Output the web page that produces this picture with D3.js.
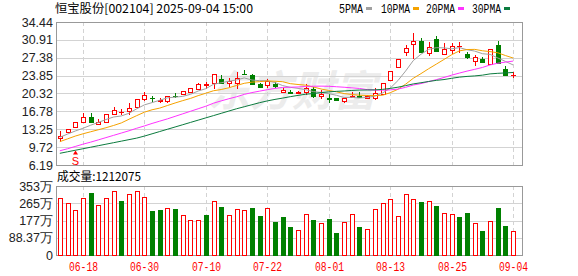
<!DOCTYPE html>
<html>
<head>
<meta charset="utf-8">
<script src="https://cdn.jsdelivr.net/npm/d3@7"></script>
<style>
  body { margin: 0; background: #fff; }
  svg { display: block; }
</style>
</head>
<body>
<div id="chart"></div>
<script>
// K线图 - 恒宝股份

// Datos
var dates = ["06-13","06-16","06-17","06-18","06-19","06-20","06-23","06-24","06-25","06-26",
  "06-27","06-30","07-01","07-02","07-03","07-04","07-07","07-08","07-09","07-10",
  "07-11","07-14","07-15","07-16","07-17","07-18","07-21","07-22","07-23","07-24",
  "07-25","07-28","07-29","07-30","07-31","08-01","08-04","08-05","08-06","08-07",
  "08-08","08-11","08-12","08-13","08-14","08-15","08-18","08-19","08-20","08-21",
  "08-22","08-25","08-26","08-27","08-28","08-29","09-01","09-02","09-03","09-04"];

var open = [11.47,12.77,13.76,14.74,15.73,14.29,14.63,16.20,16.60,16.92,
  17.71,19.17,19.45,18.90,18.90,19.85,20.15,20.55,21.27,22.05,
  22.33,23.18,22.33,22.33,24.20,23.97,22.19,21.90,22.13,20.70,
  20.67,20.35,20.67,21.20,19.80,19.35,19.35,18.85,19.65,19.75,
  19.50,19.40,20.15,23.00,25.60,28.57,30.03,30.69,28.26,31.00,
  28.06,28.91,29.70,28.12,26.79,27.13,26.08,29.90,25.10,23.90];

var high = [12.97,13.30,14.75,16.40,16.52,15.20,16.30,17.70,17.20,18.40,
  19.20,20.70,19.90,19.40,19.90,20.50,20.90,21.40,22.30,22.65,
  24.20,23.97,23.44,24.60,24.95,24.17,22.40,23.20,22.50,21.40,
  21.10,20.90,22.20,21.60,21.00,20.30,19.40,19.50,20.70,20.60,
  20.00,21.45,22.40,24.80,27.10,29.90,32.33,31.20,30.55,31.60,
  30.35,30.20,30.55,28.60,27.90,27.50,29.20,30.70,25.75,24.60];

var low = [10.73,12.70,13.60,14.70,14.70,14.10,14.50,16.10,16.00,16.10,
  17.50,18.90,18.70,18.40,18.40,19.40,20.00,20.40,21.00,21.30,
  21.30,22.20,21.54,21.30,24.10,22.00,21.40,21.50,21.50,20.40,
  20.30,20.30,20.00,19.50,19.20,18.40,18.95,18.40,19.50,19.50,
  19.30,19.00,20.00,22.90,25.30,27.70,27.07,28.40,27.70,28.50,
  27.90,28.20,28.40,27.10,25.80,26.40,25.90,26.20,23.77,23.30];

var close = [11.98,13.24,14.63,15.61,14.74,14.74,16.20,17.06,16.65,17.39,
  19.17,20.02,19.35,18.95,19.80,19.75,20.80,21.34,22.19,22.15,
  24.17,22.33,22.85,23.44,24.15,22.13,21.66,22.80,21.70,21.10,
  20.40,20.67,21.50,19.80,20.30,19.20,19.00,19.35,19.90,19.65,
  19.80,20.35,22.33,24.76,27.07,29.24,30.69,28.57,29.56,28.77,
  29.04,29.76,29.75,27.46,27.50,26.48,29.04,26.28,23.97,24.00];

// volumen en 万股
var volume = [290,265,229,290,318,255,290,326,277,312,
  326,296,225,230,239,236,205,178,178,205,
  275,246,205,234,229,241,200,239,169,195,
  143,126,208,179,162,184,113,169,208,143,
  132,234,265,285,198,311,285,272,275,251,
  214,208,195,215,162,123,173,241,149,121.2];

// medias moviles
var ma5 = [11.66,12.30,12.90,13.44,14.04,14.59,15.18,15.67,15.88,16.41,
  17.29,18.06,18.52,18.98,19.46,19.59,19.75,20.15,20.80,21.27,
  22.13,22.44,22.74,22.99,23.39,22.98,22.85,22.84,22.49,21.88,
  21.53,21.33,21.07,20.69,20.53,20.29,19.96,19.53,19.55,19.42,
  19.54,19.81,20.41,21.38,22.86,24.75,26.82,28.07,29.03,29.37,
  29.33,29.14,29.38,28.96,28.69,28.18,28.04,27.34,26.65,25.95];

var ma10 = [10.80,11.35,11.90,12.35,12.75,13.15,13.55,14.00,14.50,15.23,
  15.94,16.62,17.10,17.43,17.94,18.44,18.91,19.34,19.89,20.37,
  20.86,21.10,21.45,21.90,22.33,22.56,22.65,22.79,22.74,22.64,
  22.26,22.09,21.96,21.59,21.21,20.91,20.65,20.30,20.12,19.98,
  19.92,19.89,19.97,20.47,21.14,22.15,23.32,24.24,25.21,26.12,
  27.04,27.98,28.73,29.00,29.03,28.76,28.59,28.36,27.81,27.32];

var ma20 = [9.00,9.40,9.85,10.30,10.70,11.15,11.60,12.05,12.50,12.95,
  13.45,13.90,14.40,14.85,15.30,15.80,16.30,16.80,17.30,17.80,
  18.40,18.86,19.28,19.67,20.14,20.50,20.78,21.07,21.32,21.51,
  21.56,21.60,21.71,21.75,21.77,21.74,21.65,21.55,21.43,21.31,
  21.09,20.99,20.97,21.03,21.18,21.53,21.99,22.27,22.67,23.05,
  23.48,23.94,24.35,24.74,25.09,25.46,25.96,26.30,26.51,26.72];

var ma30 = [8.50,8.80,9.10,9.40,9.70,10.00,10.30,10.60,10.90,11.20,
  11.50,11.90,12.35,12.80,13.25,13.70,14.15,14.60,15.05,15.50,
  15.95,16.40,16.85,17.30,17.70,18.10,18.50,18.85,19.15,19.41,
  19.69,19.94,20.17,20.31,20.49,20.64,20.74,20.81,20.92,21.00,
  21.01,21.03,21.13,21.32,21.56,21.87,22.21,22.44,22.69,22.91,
  23.07,23.32,23.55,23.69,23.79,23.94,24.19,24.30,24.38,24.47];

// ejes
var xTicks = ["06-18","06-30","07-10","07-22","08-01","08-13","08-25","09-04"];
var priceTicks = [34.44,30.91,27.38,23.85,20.32,16.78,13.25,9.72,6.19];
var volTicks = [353.48,265.11,176.74,88.37,0];
var volTickLabels = ["353万","265万","177万","88.37万","0"];

var maNames = ["5PMA","10PMA","20PMA","30PMA"];
var maColors = ["#a0a0a0","#f5a200","#ff33ff","#0b7b3e"];
var signals = [{ date: "06-17", text: "S" }];

var title = "恒宝股份[002104] 2025-09-04 15:00";
var volTitle = "成交量:1212075";

// colores
var upColor = "#ff0000";
var downColor = "#008000";
var gridColor = "#d3d3d3";
var borderColor = "#999999";

// tamaño
var width = 578;
var height = 276;

// areas
var left = 56, right = 522;
var priceTop = 22, priceBottom = 165;
var volTop = 186, volBottom = 255;

var monoFont = "'Liberation Mono', 'Noto Sans CJK SC', monospace";
var cjkFont = "'Noto Sans CJK SC', sans-serif";
var numFont = "'Liberation Sans', Arial, sans-serif";

var svg = d3
  .select("#chart")
  .append("svg")
  .attr("width", width)
  .attr("height", height);

// pixel nitido
function px(v) {
  return Math.round(v) + 0.5;
}

// escalas
var xScale = d3.scaleBand().domain(dates).range([left, 517]);
function cx(d) {
  return px(xScale(d) + xScale.bandwidth() / 2);
}
var yScale = d3.scaleLinear().domain([6.19, 34.44]).range([priceBottom, priceTop]);
var vScale = d3.scaleLinear().domain([0, 353.48]).range([volBottom, volTop]);

// marca de agua
svg
  .append("text")
  .attr("x", 292)
  .attr("y", 106)
  .attr("text-anchor", "middle")
  .attr("font-family", cjkFont)
  .attr("font-size", 42)
  .attr("font-weight", "bold")
  .attr("font-style", "italic")
  .attr("fill", "#ececec")
  .text("东方财富");

// grid horizontal - precio
svg
  .append("g")
  .selectAll("line")
  .data(priceTicks.slice(1, -1))
  .enter()
  .append("line")
  .attr("x1", left)
  .attr("x2", right)
  .attr("y1", function(d) { return px(yScale(d)); })
  .attr("y2", function(d) { return px(yScale(d)); })
  .attr("stroke", gridColor);

// grid horizontal - volumen
svg
  .append("g")
  .selectAll("line")
  .data(volTicks.slice(1, -1))
  .enter()
  .append("line")
  .attr("x1", left)
  .attr("x2", right)
  .attr("y1", function(d) { return px(vScale(d)); })
  .attr("y2", function(d) { return px(vScale(d)); })
  .attr("stroke", gridColor);

// lineas verticales punteadas
[[priceTop, priceBottom], [volTop, volBottom]].forEach(function(r) {
  svg
    .append("g")
    .selectAll("line")
    .data(xTicks)
    .enter()
    .append("line")
    .attr("x1", cx)
    .attr("x2", cx)
    .attr("y1", r[0])
    .attr("y2", r[1])
    .attr("stroke", gridColor)
    .attr("stroke-dasharray", "4,3");
});

// bordes
svg
  .append("rect")
  .attr("x", left + 0.5)
  .attr("y", priceTop + 0.5)
  .attr("width", right - left)
  .attr("height", priceBottom - priceTop)
  .attr("fill", "none")
  .attr("stroke", borderColor);
svg
  .append("rect")
  .attr("x", left + 0.5)
  .attr("y", volTop + 0.5)
  .attr("width", right - left)
  .attr("height", volBottom - volTop)
  .attr("fill", "none")
  .attr("stroke", borderColor);

// velas
var candles = dates.map(function(d, i) {
  return { date: d, o: open[i], h: high[i], l: low[i], c: close[i], v: volume[i],
    prev: i > 0 ? close[i - 1] : open[i] };
});

var gCandle = svg.append("g");
candles.forEach(function(k) {
  var x = cx(k.date);
  var up = k.c >= k.o;
  var col = up ? upColor : downColor;
  var yTop = Math.round(yScale(Math.max(k.o, k.c)));
  var yBot = Math.round(yScale(Math.min(k.o, k.c)));

  // mecha
  gCandle
    .append("line")
    .attr("x1", x)
    .attr("x2", x)
    .attr("y1", Math.round(yScale(k.h)))
    .attr("y2", Math.round(yScale(k.l)))
    .attr("stroke", col);

  if (yBot - yTop < 1) {
    // doji
    gCandle
      .append("line")
      .attr("x1", x - 2.5)
      .attr("x2", x + 2.5)
      .attr("y1", yTop + 0.5)
      .attr("y2", yTop + 0.5)
      .attr("stroke", col);
  } else {
    gCandle
      .append("rect")
      .attr("x", x - 2)
      .attr("y", yTop + 0.5)
      .attr("width", 4)
      .attr("height", yBot - yTop)
      .attr("fill", up ? "#fff" : col)
      .attr("stroke", col);
  }
});

// barras de volumen (color segun cierre anterior)
svg
  .append("g")
  .selectAll("rect")
  .data(candles)
  .enter()
  .append("rect")
  .attr("x", function(k) { return cx(k.date) - 2; })
  .attr("y", function(k) { return Math.round(vScale(k.v)) + 0.5; })
  .attr("width", 4)
  .attr("height", function(k) { return volBottom - Math.round(vScale(k.v)); })
  .attr("fill", function(k) { return k.c >= k.prev ? "#fff" : downColor; })
  .attr("stroke", function(k) { return k.c >= k.prev ? upColor : downColor; });

// medias moviles
var maLine = d3
  .line()
  .x(function(d, i) { return xScale(dates[i]) + xScale.bandwidth() / 2; })
  .y(function(d) { return yScale(d); });

[ma5, ma10, ma20, ma30].forEach(function(arr, j) {
  svg
    .append("path")
    .datum(arr)
    .attr("d", maLine)
    .attr("fill", "none")
    .attr("stroke", maColors[j])
    .attr("stroke-width", 1);
});

// señal S
signals.forEach(function(s) {
  var x = cx(s.date);
  svg
    .append("path")
    .attr("d", "M" + x + ",150.5 L" + (x - 2.5) + ",154.5 L" + (x + 2.5) + ",154.5 Z")
    .attr("fill", upColor);
  svg
    .append("text")
    .attr("x", x)
    .attr("y", 165)
    .attr("text-anchor", "middle")
    .attr("font-family", numFont)
    .attr("font-size", 11)
    .attr("fill", upColor)
    .text(s.text);
});

// titulo
svg
  .append("text")
  .attr("x", 55)
  .attr("y", 13)
  .attr("font-family", cjkFont)
  .attr("font-size", 12)
  .attr("textLength", 198)
  .attr("lengthAdjust", "spacingAndGlyphs")
  .attr("fill", "#000")
  .text(title);

// leyenda
var legendX = [339, 381, 426, 472];
var legendW = [24, 29, 29, 29];
maNames.forEach(function(n, j) {
  svg
    .append("text")
    .attr("x", legendX[j])
    .attr("y", 13)
    .attr("font-family", monoFont)
    .attr("font-size", 12)
    .attr("textLength", legendW[j])
    .attr("lengthAdjust", "spacingAndGlyphs")
    .attr("fill", "#000")
    .text(n);
  svg
    .append("rect")
    .attr("x", legendX[j] + legendW[j] + 3)
    .attr("y", 7)
    .attr("width", 6)
    .attr("height", 3)
    .attr("fill", maColors[j]);
});

// etiquetas eje y precio
svg
  .append("g")
  .selectAll("text")
  .data(priceTicks)
  .enter()
  .append("text")
  .attr("x", 53)
  .attr("y", function(d) { return yScale(d) + 4.5; })
  .attr("text-anchor", "end")
  .attr("font-family", numFont)
  .attr("font-size", 12.5)
  .attr("fill", "#222")
  .text(function(d) { return d.toFixed(2); });

// titulo volumen
svg
  .append("text")
  .attr("x", 57)
  .attr("y", 181)
  .attr("font-family", cjkFont)
  .attr("font-size", 12)
  .attr("textLength", 84)
  .attr("lengthAdjust", "spacingAndGlyphs")
  .attr("fill", "#000")
  .text(volTitle);

// etiquetas eje y volumen
svg
  .append("g")
  .selectAll("text")
  .data(volTicks)
  .enter()
  .append("text")
  .attr("x", 53)
  .attr("y", function(d) { return vScale(d) + 4.5; })
  .attr("text-anchor", "end")
  .attr("font-family", numFont)
  .attr("font-size", 12.5)
  .attr("fill", "#222")
  .text(function(d, i) { return volTickLabels[i]; });

// etiquetas eje x
svg
  .append("g")
  .selectAll("text")
  .data(xTicks)
  .enter()
  .append("text")
  .attr("x", function(d) { return cx(d) - 14.5; })
  .attr("y", 271)
  .attr("font-family", monoFont)
  .attr("font-size", 12)
  .attr("textLength", 29)
  .attr("lengthAdjust", "spacingAndGlyphs")
  .attr("fill", upColor)
  .text(function(d) { return d; });
</script>
</body>
</html>
